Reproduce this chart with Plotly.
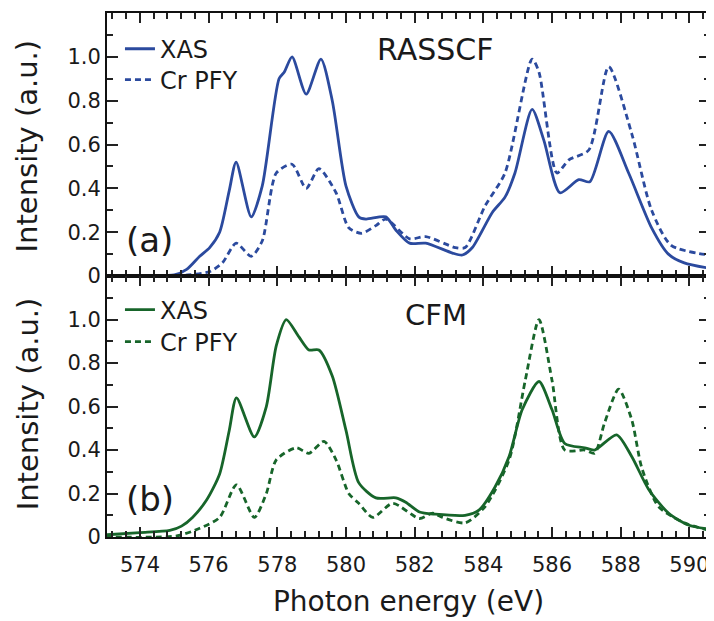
import plotly.graph_objects as go

# ---- data ----
# (a) RASSCF
rasscf_xas_e = [573.0, 574.0, 575.0, 575.36, 575.74, 576.03, 576.32, 576.6, 576.8, 577.24, 577.56, 578.05,
                578.2, 578.43, 578.84, 579.27, 579.6, 580.0, 580.37, 580.58, 581.16, 581.45, 581.85, 582.32,
                583.1, 583.39, 583.68, 584.26, 584.63, 584.92, 585.42, 585.76, 586.23, 586.78, 587.1, 587.65,
                588.23, 588.9, 589.39, 589.85, 590.6]
rasscf_xas_i = [0.0, 0.002, 0.005, 0.03, 0.09, 0.13, 0.2, 0.39, 0.52, 0.27, 0.41, 0.9,
                0.93, 1.0, 0.83, 0.99, 0.80, 0.41, 0.27, 0.26, 0.27, 0.21, 0.15, 0.15,
                0.105, 0.096, 0.13, 0.29, 0.36, 0.47, 0.76, 0.62, 0.38, 0.44, 0.43, 0.66,
                0.47, 0.22, 0.10, 0.06, 0.035]
rasscf_pfy_e = [573.0, 575.0, 575.4, 576.03, 576.4, 576.8, 577.24, 577.56, 577.97, 578.43, 578.84, 579.21,
                579.71, 580.08, 580.45, 580.87, 581.16, 581.85, 582.32, 583.18, 583.47, 584.05, 584.63,
                585.42, 585.62, 586.14, 586.49, 587.07, 587.65, 588.32, 588.9, 589.47, 590.6]
rasscf_pfy_i = [0.0, 0.0, 0.005, 0.02, 0.06, 0.15, 0.09, 0.16, 0.47, 0.51, 0.40, 0.49,
                0.38, 0.22, 0.195, 0.23, 0.26, 0.17, 0.18, 0.13, 0.13, 0.32, 0.47,
                0.99, 0.93, 0.47, 0.53, 0.575, 0.955, 0.65, 0.30, 0.14, 0.095]

# (b) CFM
cfm_xas_e = [573.0, 574.0, 574.87, 575.21, 575.53, 575.94, 576.32, 576.6, 576.81, 577.33, 577.68, 577.97,
             578.26, 578.63, 578.92, 579.21, 579.6, 580.0, 580.37, 580.87, 581.45, 581.74, 582.14, 582.6,
             583.47, 583.88, 584.34, 584.75, 585.13, 585.62, 586.0, 586.37, 586.95, 587.24, 587.88,
             588.32, 588.81, 589.39, 589.97, 590.6]
cfm_xas_i = [0.01, 0.02, 0.03, 0.05, 0.09, 0.17, 0.29, 0.49, 0.64, 0.46, 0.6, 0.88,
             1.0, 0.92, 0.86, 0.86, 0.74, 0.49, 0.25, 0.18, 0.18, 0.16, 0.115, 0.105,
             0.10, 0.125, 0.23, 0.37, 0.585, 0.715, 0.585, 0.43, 0.41, 0.40, 0.47,
             0.37, 0.22, 0.11, 0.055, 0.035]
cfm_pfy_e = [573.0, 575.07, 575.74, 576.32, 576.81, 577.33, 577.68, 577.97, 578.55, 578.92, 579.36, 579.71,
             580.08, 580.37, 580.78, 581.36, 582.14, 582.52, 582.81, 583.47, 584.05, 584.75, 585.22,
             585.62, 586.0, 586.37, 586.95, 587.24, 587.53, 587.94, 588.32, 588.61, 589.1, 589.85, 590.6]
cfm_pfy_i = [0.0, 0.005, 0.04, 0.09, 0.24, 0.09, 0.2, 0.355, 0.41, 0.385, 0.44, 0.355,
             0.2, 0.155, 0.09, 0.155, 0.085, 0.11, 0.09, 0.065, 0.14, 0.355, 0.72,
             1.0, 0.72, 0.40, 0.40, 0.385, 0.525, 0.68, 0.54, 0.32, 0.14, 0.065, 0.03]

x_range = [573.04, 590.6]
y_range = [0, 1.2]
y_tickvals = [0, 0.2, 0.4, 0.6, 0.8, 1.0]
y_ticktext = ["0", "0.2", "0.4", "0.6", "0.8", "1.0"]
x_tickvals = [574, 576, 578, 580, 582, 584, 586, 588, 590]

BLUE = "#2b4a9e"
GREEN = "#17652a"
FONT = "DejaVu Sans"
TXT = "#1a1a1a"
LW = 2.8
DASH = "6px,4px"

fig = go.Figure()
fig.add_trace(go.Scatter(x=rasscf_xas_e, y=rasscf_xas_i, name="XAS", mode="lines", showlegend=True,
                         line=dict(color=BLUE, width=LW, shape="spline", smoothing=0.7),
                         xaxis="x", yaxis="y", legend="legend"))
fig.add_trace(go.Scatter(x=rasscf_pfy_e, y=rasscf_pfy_i, name="Cr PFY", mode="lines", showlegend=True,
                         line=dict(color=BLUE, width=LW, dash=DASH, shape="spline", smoothing=0.7),
                         xaxis="x", yaxis="y", legend="legend2"))
fig.add_trace(go.Scatter(x=cfm_xas_e, y=cfm_xas_i, name="XAS", mode="lines", showlegend=True,
                         line=dict(color=GREEN, width=LW, shape="spline", smoothing=0.7),
                         xaxis="x2", yaxis="y2", legend="legend3"))
fig.add_trace(go.Scatter(x=cfm_pfy_e, y=cfm_pfy_i, name="Cr PFY", mode="lines", showlegend=True,
                         line=dict(color=GREEN, width=LW, dash=DASH, shape="spline", smoothing=0.7),
                         xaxis="x2", yaxis="y2", legend="legend4"))

common_x = dict(range=x_range, showline=True, linecolor="#111", linewidth=2, mirror="allticks",
                ticks="inside", ticklen=10, tickwidth=1.5, tickcolor="#222",
                tickvals=x_tickvals, showgrid=False, zeroline=False,
                minor=dict(dtick=0.4, tick0=574, ticks="inside", ticklen=6, tickwidth=1.5, tickcolor="#222"),
                tickfont=dict(family=FONT, size=21, color=TXT))
common_y = dict(range=y_range, showline=True, linecolor="#111", linewidth=2, mirror="allticks",
                ticks="inside", ticklen=11, tickwidth=1.5, tickcolor="#222",
                tickvals=y_tickvals, ticktext=y_ticktext, showgrid=False, zeroline=False,
                minor=dict(dtick=0.1, tick0=0, ticks="inside", ticklen=6, tickwidth=1.5, tickcolor="#222"),
                tickfont=dict(family=FONT, size=21, color=TXT), ticklabelstandoff=0)


def leg(y):
    return dict(x=0.0215, y=y, xanchor="left", yanchor="middle", bgcolor="rgba(0,0,0,0)",
                font=dict(family=FONT, size=24, color=TXT), itemwidth=30, borderwidth=0, visible=True)


def ann(text, x, y, size, angle=0):
    return dict(text=text, textangle=angle, xref="paper", yref="paper", x=x, y=y,
                xanchor="center", yanchor="middle", showarrow=False,
                font=dict(family=FONT, size=size, color=TXT))


# page body has an 8px margin: figure is sized to fit the 714x621 window
fig.update_layout(
    width=706, height=613,
    margin=dict(l=99, r=2, t=5, b=84),
    showlegend=True,
    paper_bgcolor="white", plot_bgcolor="white",
    font=dict(family=FONT, color=TXT),
    xaxis=dict(common_x, anchor="y", showticklabels=False, matches="x2"),
    yaxis=dict(common_y, domain=[0.498, 1.0], anchor="x"),
    xaxis2=dict(common_x, anchor="y2",
                title=dict(text="Photon energy (eV)", font=dict(family=FONT, size=28, color=TXT), standoff=15),
                ticklabelstandoff=8),
    yaxis2=dict(common_y, domain=[0.0, 0.498], anchor="x2"),
    legend=leg(0.931),
    legend2=leg(0.872),
    legend3=leg(0.433),
    legend4=leg(0.372),
    annotations=[
        ann("Intensity (a.u.)", -0.132, 0.746, 29, -90),
        ann("Intensity (a.u.)", -0.132, 0.254, 29, -90),
        ann("RASSCF", 0.544, 0.931, 30),
        ann("CFM", 0.545, 0.424, 29),
        ann("(a)", 0.071, 0.567, 34),
        ann("(b)", 0.071, 0.073, 34),
    ],
)

fig.write_html("out.html")
